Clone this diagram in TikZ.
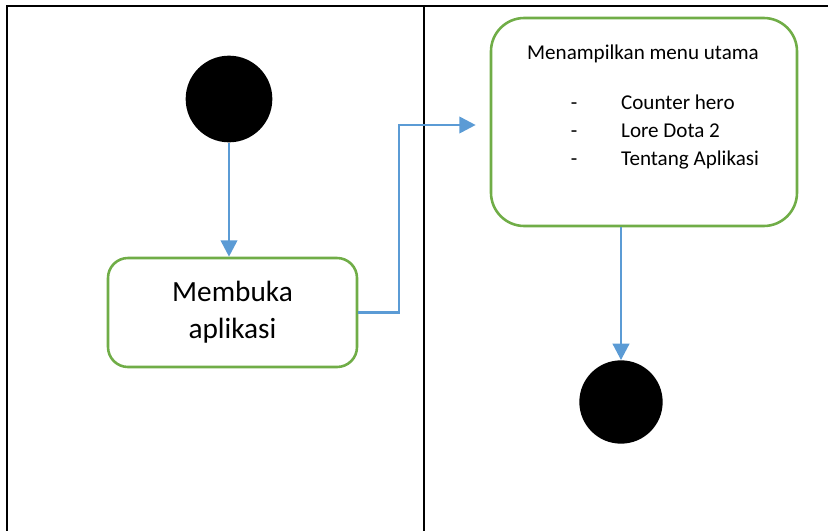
\documentclass[tikz,border=0pt]{standalone}
\usepackage{fontspec}
\setmainfont{Carlito}
\usetikzlibrary{arrows.meta,positioning}
\definecolor{actgreen}{HTML}{70AD47}
\definecolor{flowblue}{HTML}{5B9BD5}

\begin{document}
\begin{tikzpicture}[
  x=0.03cm, y=-0.03cm,
  action/.style={rectangle, draw=actgreen, line width=2.2pt, fill=white, align=center, inner sep=0pt},
  dot/.style={circle, fill=black, minimum size=2.6cm, inner sep=0pt},
  flow/.style={-{Triangle[length=14pt, width=14pt]}, flowblue, line width=2.4pt},
  lane/.style={line width=1.7pt},
  big/.style={font=\fontsize{25}{31.5}\selectfont},
  small/.style={font=\fontsize{18}{23.5}\selectfont},
]
  \useasboundingbox (0,0) rectangle (828,531);

  % Swimlanes
  \draw[lane] (7,531) -- (7,6) -- (828,6);
  \draw[lane] (424,6) -- (424,531);

  % Nodes
  \node[dot] (start) at (229,99) {};
  \node[action, big, rounded corners=0.6cm, minimum width=7.47cm, minimum height=3.27cm]
    (open) at (232.5,312.5) {Membuka\\aplikasi};
  \node[action, rounded corners=1cm, minimum width=9.18cm, minimum height=6.24cm]
    (menu) at (644,122) {};
  \node[small, anchor=base] (title) at (643,59) {Menampilkan menu utama};
  \foreach \txt [count=\i] in {Counter hero, Lore Dota 2, Tentang Aplikasi} {
    \node[small, anchor=base] (dash\i) at (574,81+28*\i) {-};
    \node[small, anchor=base west] (item\i) at (617,81+28*\i) {\txt};
  }
  \node[dot, minimum size=2.5cm] (end) at (621,402) {};

  % Flow
  \coordinate (bend) at (399,125);
  \draw[flow] (start) -- (start |- open.north);
  \draw[flow, shorten >=0.42cm] (open.east) -| (bend) -- (bend -| menu.west);
  \draw[flow] (end |- menu.south) -- (end.north);
\end{tikzpicture}
\end{document}
